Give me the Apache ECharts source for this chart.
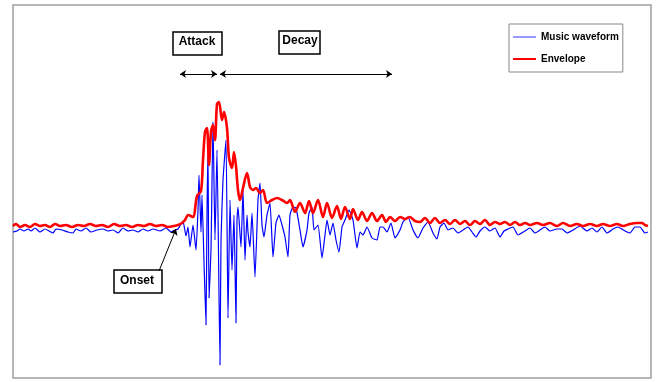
<!DOCTYPE html>
<html>
<head>
<meta charset="utf-8">
<script src="https://cdn.jsdelivr.net/npm/echarts@6/dist/echarts.min.js"></script>
<style>
  html, body { margin: 0; padding: 0; background: #fff; }
  #chart { width: 665px; height: 382px; }
</style>
</head>
<body>
<div id="chart"></div>
<script>
// music waveform (time in samples, amplitude)
const waveTime = [
  0, 4, 7, 11, 15, 18, 22, 27, 32, 36, 40, 43, 49, 55, 60, 63, 68, 73, 78, 84,
  90, 95, 100, 105, 110, 115, 120, 125, 130, 135, 140, 147, 153, 158, 162, 165, 168, 170, 173, 175,
  177, 180, 183, 185, 186, 188, 189, 191, 193, 194, 195, 196, 198, 200, 202, 204, 207, 208, 210, 213,
  215, 217, 219, 221, 223, 224, 225, 228, 230, 232, 234, 235, 237, 239, 242, 245, 247, 249, 251, 254,
  257, 260, 263, 266, 269, 272, 275, 277, 280, 283, 287, 290, 294, 296, 299, 301, 305, 309, 312, 314,
  317, 320, 323, 326, 329, 332, 336, 340, 344, 347, 350, 354, 359, 364, 367, 370, 374, 378, 382, 387,
  390, 395, 400, 405, 410, 415, 420, 424, 427, 431, 435, 440, 445, 450, 455, 459, 463, 467, 472, 477,
  482, 487, 491, 495, 500, 505, 512, 517, 522, 527, 532, 537, 544, 549, 554, 560, 567, 574, 579, 584,
  589, 594, 600, 605, 612, 617, 622, 627, 632, 635
];
const waveAmp = [
  -0.04, -0.03, -0.01, -0.03, -0.01, -0.03, 0, -0.04, -0.01, -0.03, -0.05, -0.01, -0.02, -0.04, -0.05, -0.01, -0.03, 0, -0.04, -0.02,
  -0.01, -0.03, -0.02, -0.05, 0, -0.03, -0.02, -0.04, -0.01, -0.03, -0.01, -0.03, 0, -0.04, -0.02, -0.01, 0.04, 0.07, -0.08, 0.01,
  -0.19, 0.03, -0.22, 0.18, 0.53, -0.04, 0.33, -0.34, -0.97, 0.15, 0.78, -0.70, -0.22, 1.06, -0.12, 0.78, -1.37, -0.12, 0.48, 0.88,
  -0.90, 0.28, -0.42, 0.13, -0.95, 0.08, 0.21, -0.19, 0.38, -0.32, 0.13, -0.04, -0.19, 0.15, -0.49, 0.28, 0.45, 0.03, -0.09, 0.13, 0.25,
  -0.29, 0.05, 0.13, 0.03, -0.09, -0.29, 0.13, 0.21, 0.20, -0.02, -0.19, -0.02, 0.15, 0.21, -0.02, 0.03, -0.30, -0.07, 0.08, -0.07,
  0.05, -0.12, -0.24, 0.01, 0.08, 0.18, 0.08, -0.20, -0.04, -0.07, 0.01, -0.10, -0.12, 0.01, 0.01, -0.04, 0.05, -0.10, -0.02, 0.06,
  0.11, -0.02, -0.10, 0, 0.06, -0.05, -0.11, 0.01, 0.05, -0.02, 0, -0.05, -0.02, 0.01, -0.04, -0.09, -0.03, 0.01, -0.03, 0,
  -0.09, -0.03, -0.01, 0.01, -0.07, -0.03, 0, -0.05, -0.02, 0.01, -0.03, -0.01, -0.01, -0.05, -0.02, 0.02, -0.03, 0, -0.04, 0.01,
  -0.05, -0.01, 0.01, -0.03, -0.05, 0.01, 0.01, -0.05, -0.04, -0.03
];

// envelope
const envTime = [
  0, 3, 7, 12, 17, 22, 27, 32, 37, 42, 47, 53, 59, 65, 71, 77, 83, 89, 95, 101,
  107, 113, 119, 125, 131, 137, 143, 149, 155, 161, 165, 169, 172, 175, 180, 184, 188, 190, 192, 194,
  196, 198, 200, 202, 204, 206, 209, 211, 214, 216, 219, 221, 223, 225, 227, 230, 234, 237, 240, 243,
  247, 250, 254, 259, 264, 269, 274, 277, 282, 287, 292, 296, 300, 305, 310, 314, 319, 324, 328, 332,
  337, 340, 345, 349, 354, 359, 364, 369, 373, 377, 382, 387, 392, 397, 402, 407, 412, 417, 422, 427,
  432, 437, 442, 447, 452, 457, 462, 467, 472, 477, 482, 487, 492, 497, 502, 507, 512, 517, 524, 530,
  537, 544, 550, 557, 564, 570, 577, 584, 590, 597, 604, 610, 617, 624, 629, 632, 635
];
const envAmp = [
  0.02, 0.04, 0.01, 0.03, 0.01, 0.04, 0.02, 0.03, 0.01, 0.04, 0.02, 0.03, 0.01, 0.03, 0.02, 0.04, 0.02, 0.03, 0.01, 0.04,
  0.02, 0.03, 0.01, 0.03, 0.02, 0.04, 0.02, 0.03, 0.01, 0.02, 0.03, 0.05, 0.08, 0.13, 0.11, 0.32, 0.37, 0.68, 0.96, 1.00,
  0.63, 0.96, 1.03, 0.88, 1.24, 1.26, 1.08, 1.16, 1.00, 0.70, 0.60, 0.76, 0.62, 0.38, 0.28, 0.40, 0.55, 0.41, 0.38, 0.40,
  0.35, 0.38, 0.25, 0.28, 0.30, 0.28, 0.25, 0.28, 0.16, 0.25, 0.15, 0.27, 0.15, 0.28, 0.11, 0.25, 0.10, 0.22, 0.09, 0.21,
  0.09, 0.19, 0.08, 0.16, 0.07, 0.15, 0.07, 0.13, 0.06, 0.11, 0.07, 0.11, 0.09, 0.11, 0.07, 0.06, 0.10, 0.05, 0.10, 0.05,
  0.08, 0.04, 0.08, 0.04, 0.07, 0.03, 0.07, 0.04, 0.08, 0.03, 0.06, 0.04, 0.06, 0.03, 0.06, 0.03, 0.05, 0.03, 0.05, 0.03,
  0.05, 0.02, 0.05, 0.02, 0.04, 0.02, 0.04, 0.02, 0.04, 0.02, 0.04, 0.02, 0.04, 0.05, 0.05, 0.03, 0.02
];

const seriesNames = ["Music waveform", "Envelope"];

const chart = echarts.init(document.getElementById("chart"));

const waveData = waveTime.map((t, i) => [t, waveAmp[i]]);
const envData = envTime.map((t, i) => [t, envAmp[i]]);

const boxFont = "bold 12px 'Liberation Sans', Arial, sans-serif";

function labelBox(x, y, w, h, text, tx, ty) {
  return {
    type: "group",
    children: [
      {
        type: "rect",
        shape: { x: x, y: y, width: w, height: h },
        style: { fill: "#fff", stroke: "#000", lineWidth: 1.5 }
      },
      {
        type: "text",
        x: tx,
        y: ty,
        style: {
          text: text,
          font: boxFont,
          fill: "#000",
          align: "center",
          verticalAlign: "middle"
        }
      }
    ]
  };
}

const option = {
  animation: false,
  backgroundColor: "#fff",
  grid: {
    left: 13,
    right: 14,
    top: 5,
    bottom: 4,
    show: true,
    borderColor: "#a0a0a0",
    borderWidth: 1.5,
    backgroundColor: "#fff"
  },
  legend: {
    data: [
      { name: seriesNames[0], itemStyle: { color: "#9999ff" } },
      { name: seriesNames[1], itemStyle: { color: "#ff0000" } }
    ],
    orient: "vertical",
    left: 509,
    top: 24,
    padding: [7, 4, 7, 4],
    itemWidth: 23,
    itemHeight: 2,
    itemGap: 10,
    icon: "rect",
    borderColor: "#888",
    borderWidth: 1,
    backgroundColor: "#fff",
    textStyle: {
      fontFamily: "'Liberation Sans', Arial, sans-serif",
      fontWeight: "bold",
      fontSize: 10,
      lineHeight: 12,
      color: "#000"
    }
  },
  xAxis: {
    type: "value",
    min: 0,
    max: 638,
    show: false,
    splitLine: { show: false }
  },
  yAxis: {
    type: "value",
    min: -1.5,
    max: 2.23,
    show: false,
    splitLine: { show: false }
  },
  series: [
    {
      name: seriesNames[0],
      type: "line",
      data: waveData,
      symbol: "none",
      smooth: 0.15,
      lineStyle: { color: "#0000ff", width: 1.2 },
      itemStyle: { color: "#0000ff" },
      markLine: {
        silent: true,
        animation: false,
        label: { show: false },
        lineStyle: { color: "#000", width: 1, type: "solid" },
        symbolSize: [6, 6],
        data: [
          [{ coord: [167, 1.54], symbol: "arrow" }, { coord: [204, 1.54], symbol: "arrow" }],
          [{ coord: [207, 1.54], symbol: "arrow" }, { coord: [379, 1.54], symbol: "arrow" }],
          [{ coord: [146, -0.43], symbol: "none" }, { coord: [163, -0.01], symbol: "arrow" }]
        ]
      }
    },
    {
      name: seriesNames[1],
      type: "line",
      data: envData,
      symbol: "none",
      smooth: 0.3,
      lineStyle: { color: "#ff0000", width: 2.6 },
      itemStyle: { color: "#ff0000" }
    }
  ],
  graphic: [
    labelBox(173, 32, 49, 23, "Attack", 197, 42),
    labelBox(279, 31, 41, 23, "Decay", 300, 41),
    labelBox(114, 270, 48, 23, "Onset", 137, 281)
  ]
};

chart.setOption(option);
</script>
</body>
</html>
